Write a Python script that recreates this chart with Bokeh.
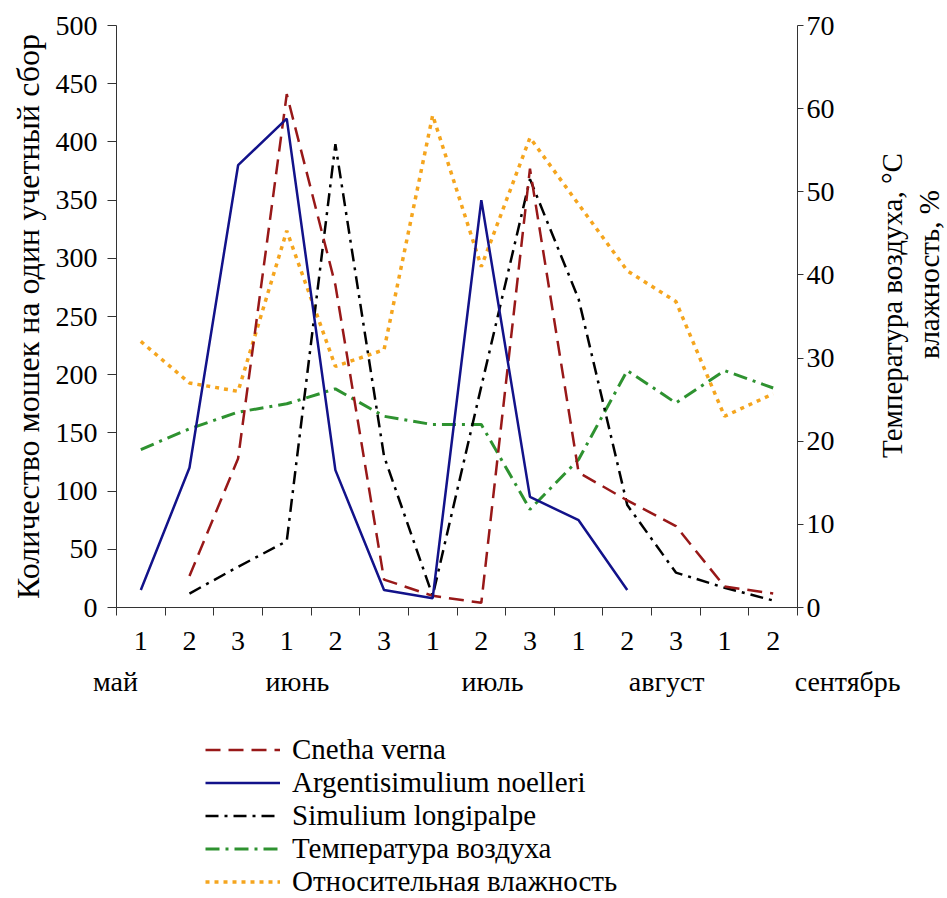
import numpy as np
from bokeh.plotting import figure
from bokeh.layouts import row
from bokeh.models import (Range1d, LinearAxis, FixedTicker, SingleIntervalTicker,
                          Legend, LegendItem, Label)
from bokeh.embed import file_html
from bokeh.resources import INLINE

# ---- data -------------------------------------------------------------
decades = ["1", "2", "3", "1", "2", "3", "1", "2", "3", "1", "2", "3", "1", "2"]
months = ["май", "июнь", "июль", "август", "сентябрь"]
nan = float("nan")
cnetha = [nan, 27, 128, 441, 277, 24, 10, 4, 377, 116, 92, 70, 18, 12]
argent = [15, 120, 380, 420, 118, 15, 8, 350, 95, 75, 15, nan, nan, nan]
simul = [nan, 12, 35, 57, 398, 130, 10, 190, 368, 265, 88, 30, 17, 6]
temp = [19, 21.5, 23.5, 24.5, 26.3, 23, 22, 22, 11.8, 17.8, 28.5, 24.6, 28.5, 26.4]
humid = [32, 27, 26, 45.3, 29, 31, 59.2, 41, 56.5, 48.5, 40.5, 36.8, 23, 25.7]
series_names = ["Cnetha verna", "Argentisimulium noelleri", "Simulium longipalpe",
                "Температура воздуха", "Относительная влажность"]
left_title = "Количество мошек на один учетный сбор"
right_title = ["Температура воздуха, °С", "влажность, %"]

# ---- layout constants ----------------------------------------------
FONT = "Liberation Serif"
TICK_SIZE = "28px"
W = 946
FL, FW, FT, FH = 116, 681, 25, 582     # plot frame
RB = 40                                 # right border of the chart (tick labels)
BOT = 14                                # space under the frame for tick marks
H1 = FT + FH + BOT
H2 = 898 - H1
W1 = FL + FW + RB
n = len(decades)
xs = np.arange(n) + 0.5                 # centre of each decade slot
px_per_unit = FW / n

styles = {
    "Cnetha verna": dict(line_color="#981818", line_width=2.5, line_dash="15 8"),
    "Argentisimulium noelleri": dict(line_color="#12128A", line_width=2.5),
    "Simulium longipalpe": dict(line_color="black", line_width=2.5, line_dash="13 6 3 6"),
    "Температура воздуха": dict(line_color="#2E9230", line_width=3, line_dash="14 6 3 6"),
    "Относительная влажность": dict(line_color="#F5A51E", line_width=3.5, line_dash="4 5"),
}
series = {
    "Cnetha verna": (cnetha, "default"),
    "Argentisimulium noelleri": (argent, "default"),
    "Simulium longipalpe": (simul, "default"),
    "Температура воздуха": (temp, "right"),
    "Относительная влажность": (humid, "right"),
}

def bare(fig):
    fig.outline_line_color = None
    fig.xgrid.visible = False
    fig.ygrid.visible = False

# ---- main chart -----------------------------------------------------
p = figure(width=W1, height=H1, output_backend="svg", toolbar_location=None,
           x_range=Range1d(0, n), y_range=Range1d(0, 500),
           frame_width=FW, frame_height=FH,
           min_border_left=FL, min_border_right=RB,
           min_border_top=FT, min_border_bottom=BOT,
           x_axis_location=None, y_axis_location=None)
bare(p)
p.extra_y_ranges = {"right": Range1d(0, 70)}

def style_axis(ax):
    ax.major_label_text_font = FONT
    ax.major_label_text_font_size = TICK_SIZE
    ax.major_label_text_color = "black"
    ax.axis_line_color = "#333333"
    ax.major_tick_line_color = "#333333"
    ax.minor_tick_line_color = None
    ax.major_tick_in = 0

left = LinearAxis(ticker=SingleIntervalTicker(interval=50))
style_axis(left)
left.major_tick_out = 9
left.major_label_standoff = 10
left.axis_label = left_title
left.axis_label_text_font = FONT
left.axis_label_text_font_size = "32px"
left.axis_label_text_font_style = "normal"
left.axis_label_text_color = "black"
left.axis_label_standoff = 7
p.add_layout(left, "left")

right = LinearAxis(y_range_name="right", ticker=SingleIntervalTicker(interval=10))
style_axis(right)
right.major_tick_out = 6
right.major_label_standoff = 3
p.add_layout(right, "right")

# bottom axis: only boundary marks between the decades (no labels here)
bottom = LinearAxis(ticker=FixedTicker(ticks=[], minor_ticks=list(range(n + 1))))
style_axis(bottom)
bottom.minor_tick_line_color = "#333333"
bottom.minor_tick_out = 8
bottom.minor_tick_in = 0
p.add_layout(bottom, "below")

draw_order = ["Относительная влажность", "Температура воздуха", "Simulium longipalpe",
              "Cnetha verna", "Argentisimulium noelleri"]
for name in draw_order:
    vals, rng = series[name]
    p.line(xs, vals, y_range_name=rng, **styles[name])

# ---- right-hand title panel (two lines reading upwards) -------------
WR = W - W1
pr = figure(width=WR, height=H1, output_backend="svg", toolbar_location=None,
            x_range=Range1d(0, WR), y_range=Range1d(0, FH),
            min_border_left=0, min_border_right=0,
            min_border_top=FT, min_border_bottom=BOT,
            x_axis_location=None, y_axis_location=None)
bare(pr)
for txt, lx, ly in zip(right_title, [54, 91], [302, 333]):
    pr.add_layout(Label(x=lx, y=ly, text=txt, angle=np.pi / 2,
                        text_font=FONT, text_font_size="29px", text_color="black",
                        text_align="center", text_baseline="middle"))

# ---- lower panel: decade numbers, months and legend ------------------
x0 = -FL / px_per_unit
x1 = (W - FL) / px_per_unit
p2 = figure(width=W, height=H2, output_backend="svg", toolbar_location=None,
            x_range=Range1d(x0, x1), y_range=Range1d(H2, 0),
            min_border_left=0, min_border_right=0, min_border_top=0,
            min_border_bottom=0, x_axis_location=None, y_axis_location=None)
bare(p2)

DIGIT_Y = 640 - H1
MONTH_Y = 681 - H1
month_x = [-0.02, 3.72, 7.73, 11.31, 15.03]
p2.text(x=list(xs), y=[DIGIT_Y] * n, text=decades, text_font={"value": FONT},
        text_font_size=TICK_SIZE, text_color="black", text_align="center",
        text_baseline="middle")
p2.text(x=month_x, y=[MONTH_Y] * len(months), text=months, text_font={"value": FONT},
        text_font_size=TICK_SIZE, text_color="black", text_align="center",
        text_baseline="middle")

# legend: the same series drawn on an off-screen range (only the key shows)
p2.extra_y_ranges = {"offscreen": Range1d(10000, 20000)}
items = []
for name in series_names:
    vals, _ = series[name]
    r = p2.line(xs, vals, y_range_name="offscreen", **styles[name])
    items.append(LegendItem(label=name, renderers=[r]))

ROW = 33
LEG_MID = 815 - H1                      # centre of the middle legend row
leg_bottom = LEG_MID + ROW * len(items) / 2
legend = Legend(items=items, location=(205, H2 - leg_bottom))
legend.label_text_font = FONT
legend.label_text_font_size = "29px"
legend.label_text_color = "black"
legend.glyph_width = 75
legend.glyph_height = ROW
legend.label_height = ROW
legend.label_standoff = 12
legend.spacing = 0
legend.padding = 0
legend.margin = 0
legend.border_line_color = None
legend.background_fill_alpha = 0
p2.add_layout(legend, "center")

top = row(p, pr, spacing=0)
open("out.html", "w").write(file_html([top, p2], INLINE))
